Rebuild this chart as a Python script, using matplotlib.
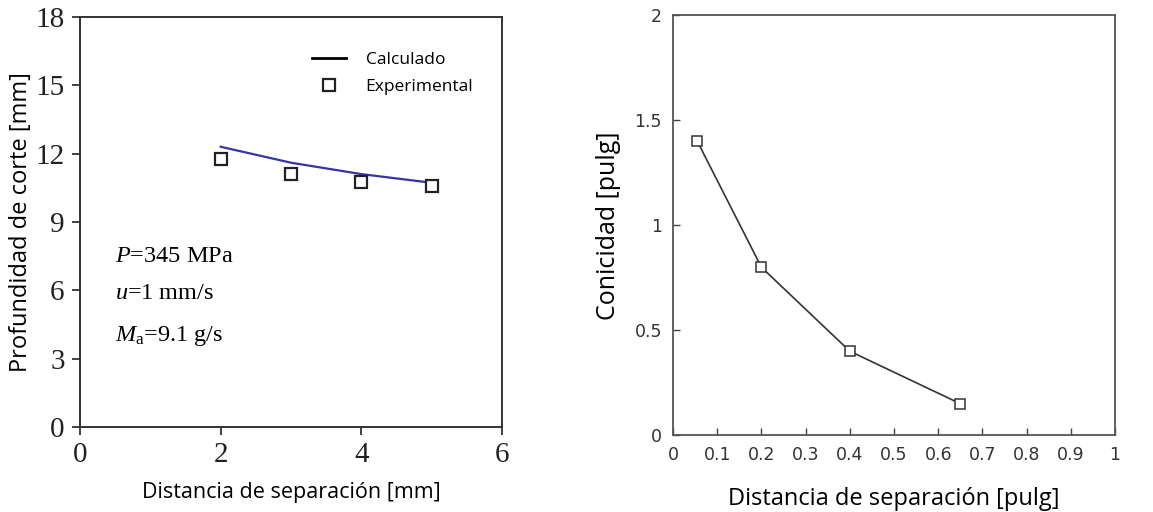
import numpy as np
import matplotlib.pyplot as plt
from matplotlib import rcParams

rcParams['mathtext.fontset'] = 'custom'
rcParams['mathtext.rm'] = 'Liberation Serif'
rcParams['mathtext.it'] = 'Liberation Serif:italic'

# panel izquierdo: profundidad de corte
sep_mm = [2, 3, 4, 5]
prof_calc = [12.3, 11.6, 11.1, 10.72]
prof_exp = [11.75, 11.12, 10.75, 10.58]
xticks_mm = [0, 2, 4, 6]
yticks_mm = [0, 3, 6, 9, 12, 15, 18]

# panel derecho: conicidad
sep_pulg = [0.055, 0.2, 0.4, 0.65]
conicidad = [1.4, 0.8, 0.4, 0.15]
xticks_pulg = [0, 0.1, 0.2, 0.3, 0.4, 0.5, 0.6, 0.7, 0.8, 0.9, 1]
xlabels_pulg = ['0', '0.1', '0.2', '0.3', '0.4', '0.5', '0.6', '0.7', '0.8', '0.9', '1']
yticks_pulg = [0, 0.5, 1, 1.5, 2]
ylabels_pulg = ['0', '0.5', '1', '1.5', '2']

label_font = 'Open Sans'
serif = 'Liberation Serif'

fig = plt.figure(figsize=(11.53, 5.12), dpi=100)

# --- izquierda ---
ax1 = fig.add_axes([0.0694, 0.166, 0.366, 0.801])
ax1.plot(sep_mm, prof_calc, color='#3535a5', linewidth=1.6, label='Calculado')
ax1.plot(sep_mm, prof_exp, linestyle='none', marker='s', markersize=9,
         markerfacecolor='white', markeredgecolor='#222222', markeredgewidth=1.6,
         label='Experimental')
ax1.set_xlim(0, 6)
ax1.set_ylim(0, 18)
ax1.set_xticks(xticks_mm)
ax1.set_yticks(yticks_mm)
for lbl in ax1.get_xticklabels() + ax1.get_yticklabels():
    lbl.set_fontfamily(serif)
    lbl.set_fontsize(21)
    lbl.set_color('#222222')
ax1.tick_params(direction='out', length=6, width=1.3, color='#333333', pad=5)
for s in ax1.spines.values():
    s.set_linewidth(1.4)
    s.set_color('#333333')
ax1.set_xlabel('Distancia de separación [mm]', fontfamily=label_font, fontsize=15.5, labelpad=10)
ax1.set_ylabel('Profundidad de corte [mm]', fontfamily=label_font, fontsize=17, labelpad=2)

# legend with black handle for the line
h1, = ax1.plot([], [], color='black', linewidth=2)
h2 = ax1.get_lines()[1]
ax1.legend([h1, h2], ['Calculado', 'Experimental'], loc='upper right',
           bbox_to_anchor=(0.969, 0.953), frameon=False, handlelength=2.0,
           handletextpad=1.1, labelspacing=0.65, prop={'family': label_font, 'size': 12.5})

ax1.text(0.5, 7.5, r'$P$=345 MPa', fontsize=17.5, va='center', fontfamily=serif)
ax1.text(0.5, 5.85, r'$u$=1 mm/s', fontsize=17.5, va='center', fontfamily=serif)
ax1.text(0.5, 4.0, r'$M_{\mathrm{a}}$=9.1 g/s', fontsize=17.5, va='center', fontfamily=serif)

# --- derecha ---
ax2 = fig.add_axes([0.5837, 0.150, 0.3834, 0.820])
ax2.plot(sep_pulg, conicidad, color='#333333', linewidth=1.2, marker='s', markersize=6.5,
         markerfacecolor='white', markeredgecolor='#333333', markeredgewidth=1.1)
ax2.set_xlim(0, 1)
ax2.set_ylim(0, 2)
ax2.set_xticks(xticks_pulg)
ax2.set_xticklabels(xlabels_pulg)
ax2.set_yticks(yticks_pulg)
ax2.set_yticklabels(ylabels_pulg)
ax2.tick_params(direction='in', length=5, width=1.0, color='#444444',
                labelsize=12.5, labelcolor='#333333', pad=8)
for s in ax2.spines.values():
    s.set_linewidth(1.3)
    s.set_color('#555555')
ax2.set_xlabel('Distancia de separación [pulg]', fontfamily=label_font, fontsize=17, labelpad=16)
ax2.set_ylabel('Conicidad [pulg]', fontfamily=label_font, fontsize=18, labelpad=10)

fig.savefig('out.png', dpi=100)
